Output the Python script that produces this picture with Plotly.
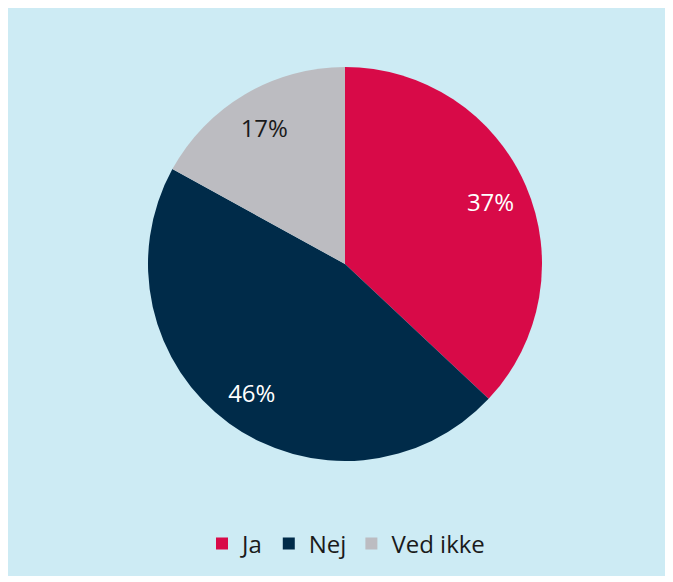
import plotly.graph_objects as go

labels = ["Ja", "Nej", "Ved ikke"]
values = [37, 46, 17]
colors = ["#d80a48", "#002b49", "#bcbcc1"]
text_colors = ["#ffffff", "#ffffff", "#1a1a1a"]

W, H = 673, 582
# page offset of the figure inside the browser (body margin)
OX, OY = 8, 7
cx, cy, r = 345 - OX, 263 - OY, 197
dom = dict(x=[(cx - r) / W, (cx + r) / W], y=[(H - cy - r) / H, (H - cy + r) / H])

fig = go.Figure()
# filled pie (no text)
fig.add_trace(go.Pie(
    labels=labels, values=values, sort=False, direction="clockwise", rotation=0,
    marker=dict(colors=colors, line=dict(width=0)),
    textinfo="none", domain=dom, hoverinfo="label+percent", showlegend=True,
))
# transparent ring used only to place labels at ~0.8 of radius
fig.add_trace(go.Pie(
    labels=labels, values=values, sort=False, direction="clockwise", rotation=0,
    hole=0.61,
    marker=dict(colors=["rgba(0,0,0,0)"] * 3, line=dict(width=0)),
    texttemplate="%{value}%", textposition="inside", insidetextorientation="horizontal",
    textfont=dict(family="Open Sans", size=24, color=text_colors),
    domain=dom, hoverinfo="skip", showlegend=False,
))

fig.add_shape(type="rect", xref="paper", yref="paper",
              x0=0, x1=(665 - OX) / W, y0=(H - (575 - OY)) / H, y1=1,
              fillcolor="#cdebf4", line=dict(width=0), layer="below")

fig.update_layout(
    width=W, height=H,
    margin=dict(l=0, r=0, t=0, b=0),
    paper_bgcolor="#ffffff",
    plot_bgcolor="#ffffff",
    font=dict(family="Open Sans", size=24, color="#1a1a1a"),
    showlegend=True,
    legend=dict(orientation="h", x=(346 - OX) / W, xanchor="center",
                y=(H - (543 - OY)) / H, yanchor="middle",
                font=dict(size=24, color="#1a1a1a"), itemwidth=30,
                bgcolor="rgba(0,0,0,0)"),
)

fig.write_html("out.html")
